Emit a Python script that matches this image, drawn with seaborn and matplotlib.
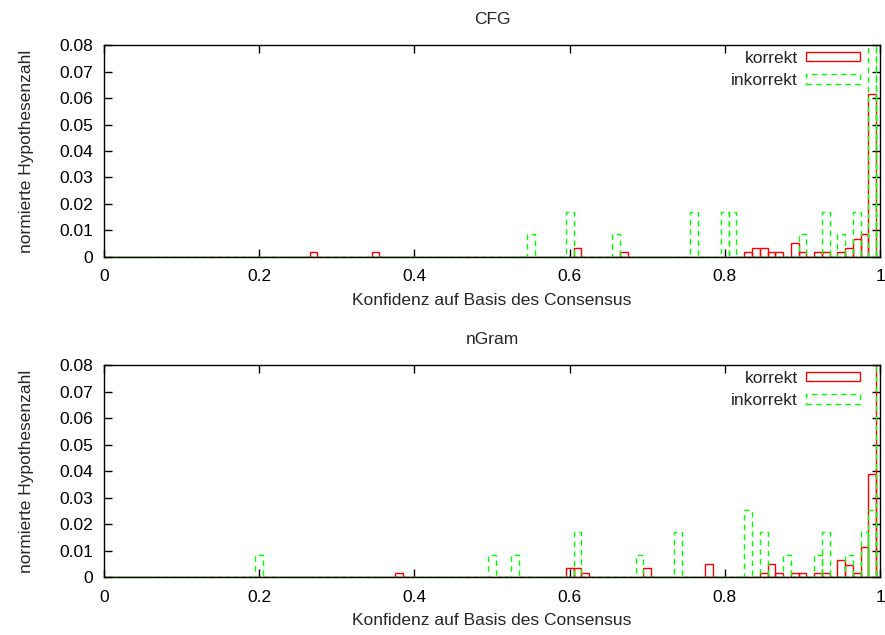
import numpy as np
import pandas as pd
import matplotlib
matplotlib.use("Agg")
import matplotlib.pyplot as plt
from matplotlib.patches import Rectangle
import seaborn as sns

# ---------------- data (bin centres, bin width 0.01) ----------------
cfg_korrekt_x = [0.27, 0.35, 0.61, 0.67, 0.83, 0.84, 0.85, 0.86, 0.87, 0.89,
                 0.90, 0.92, 0.93, 0.95, 0.96, 0.97, 0.98, 0.99]
cfg_korrekt_y = [0.0017, 0.0017, 0.0034, 0.0017, 0.0017, 0.0034, 0.0034, 0.0017, 0.0017, 0.0051,
                 0.0017, 0.0017, 0.0017, 0.0017, 0.0034, 0.0068, 0.0085, 0.0615]
cfg_inkorrekt_x = [0.55, 0.60, 0.66, 0.76, 0.80, 0.81, 0.90, 0.93, 0.95, 0.97, 0.99, 1.00]
cfg_inkorrekt_y = [0.0085, 0.017, 0.0085, 0.017, 0.017, 0.017, 0.0085, 0.017, 0.0085, 0.017, 0.2, 0.2]

ngram_korrekt_x = [0.38, 0.60, 0.61, 0.62, 0.70, 0.78, 0.85, 0.86, 0.87, 0.89,
                   0.90, 0.92, 0.93, 0.95, 0.96, 0.97, 0.98, 0.99, 1.00]
ngram_korrekt_y = [0.0017, 0.0034, 0.0034, 0.0017, 0.0034, 0.0051, 0.0017, 0.0051, 0.0017, 0.0017,
                   0.0017, 0.0017, 0.0017, 0.0064, 0.0047, 0.0017, 0.0113, 0.039, 0.2]
ngram_inkorrekt_x = [0.20, 0.50, 0.53, 0.61, 0.69, 0.74, 0.83, 0.85, 0.88, 0.92,
                     0.93, 0.96, 0.98, 0.99, 1.00]
ngram_inkorrekt_y = [0.0085, 0.0085, 0.0085, 0.017, 0.0085, 0.017, 0.0253, 0.017, 0.0085, 0.0085,
                     0.017, 0.0085, 0.017, 0.0253, 0.2]

titles = ["CFG", "nGram"]
series_labels = ["korrekt", "inkorrekt"]
x_ticks = [0, 0.2, 0.4, 0.6, 0.8, 1.0]
x_ticklabels = ["0", "0.2", "0.4", "0.6", "0.8", "1"]
y_ticks = [0, 0.01, 0.02, 0.03, 0.04, 0.05, 0.06, 0.07, 0.08]
y_ticklabels = ["0", "0.01", "0.02", "0.03", "0.04", "0.05", "0.06", "0.07", "0.08"]
x_label = "Konfidenz auf Basis des Consensus"
y_label = "normierte Hypothesenzahl"

# ---------------- styling ----------------
sns.set_theme(style="ticks")
plt.rcParams['font.family'] = ['Liberation Sans', 'DejaVu Sans']
FS = 12.5
RED = "#ff0000"
GREEN = "#00ff00"

fig = plt.figure(figsize=(8.85, 6.35), dpi=100)
ax_top = fig.add_axes([0.1175, 0.5953, 0.8769, 0.3338])
ax_bot = fig.add_axes([0.1175, 0.0913, 0.8769, 0.3338])

panels = [
    (ax_top, titles[0], cfg_korrekt_x, cfg_korrekt_y, cfg_inkorrekt_x, cfg_inkorrekt_y),
    (ax_bot, titles[1], ngram_korrekt_x, ngram_korrekt_y, ngram_inkorrekt_x, ngram_inkorrekt_y),
]

for ax, title, kx, ky, ix, iy in panels:
    dk = pd.DataFrame({"x": kx, "w": ky})
    di = pd.DataFrame({"x": ix, "w": iy})
    sns.histplot(data=dk, x="x", weights="w", binwidth=0.01, binrange=(-0.005, 1.005),
                 fill=False, element="bars", color=RED, linewidth=1.0, ax=ax)
    sns.histplot(data=di, x="x", weights="w", binwidth=0.01, binrange=(-0.005, 1.005),
                 fill=False, element="bars", color=GREEN, linewidth=1.0,
                 linestyle=(0, (4, 3)), ax=ax)
    ax.set_xlim(0, 1)
    ax.set_ylim(0, 0.08)
    ax.set_xticks(x_ticks)
    ax.set_xticklabels(x_ticklabels)
    ax.set_yticks(y_ticks)
    ax.set_yticklabels(y_ticklabels)
    ax.tick_params(direction="in", top=True, right=True, length=6, width=1,
                   labelsize=FS, colors="black")
    ax.tick_params(axis="x", pad=9)
    ax.tick_params(axis="y", pad=8)
    for sp in ax.spines.values():
        sp.set_visible(True)
        sp.set_color("black")
        sp.set_linewidth(1.0)
    ax.set_title(title, fontsize=FS, pad=15)
    ax.set_xlabel(x_label, fontsize=FS, labelpad=6)
    ax.set_ylabel(y_label, fontsize=FS, labelpad=18)
    handles = [Rectangle((0, 0), 1, 1, fill=False, edgecolor=RED, linewidth=1.0),
               Rectangle((0, 0), 1, 1, fill=False, edgecolor=GREEN, linewidth=1.0,
                         linestyle=(0, (4, 3)))]
    ax.legend(handles, series_labels, loc="upper right", markerfirst=False, frameon=False,
              fontsize=FS, handlelength=3.1, handleheight=0.5, handletextpad=0.5,
              labelspacing=0.45, borderaxespad=0.0, borderpad=0.2,
              bbox_to_anchor=(0.979, 0.99))

fig.savefig("out.png", dpi=100)
